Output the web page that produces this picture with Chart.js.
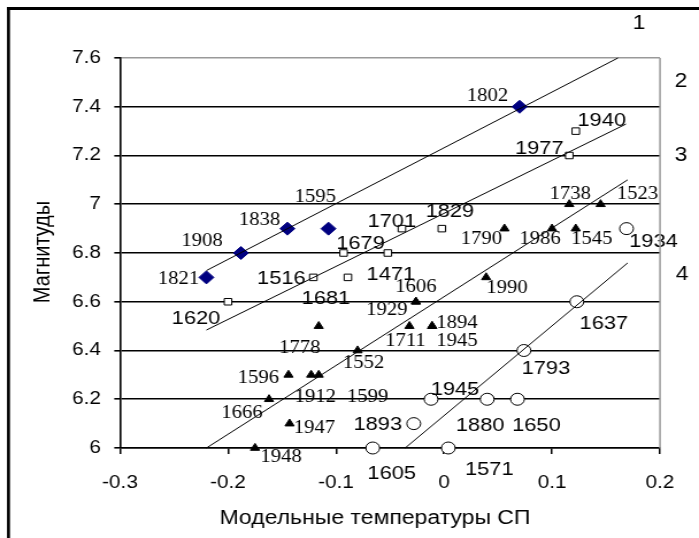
<!DOCTYPE html>
<html lang="ru">
<head>
<meta charset="UTF-8">
<title>Магнитуды</title>
<script src="https://cdn.jsdelivr.net/npm/chart.js@4.4.1/dist/chart.umd.min.js"></script>
<style>
  html, body { margin: 0; padding: 0; background: #fff; overflow: hidden; }
  #wrap { width: 699px; height: 538px; position: relative; overflow: hidden; }
  #chart { position: absolute; left: 0; top: 0; transform-origin: 0 0; }
</style>
</head>
<body>
<div id="wrap"><canvas id="chart" width="608" height="538"></canvas></div>
<script>
// the original picture is a little stretched sideways, so the canvas is too
const CW = 608;
const S = 699 / CW;
document.getElementById('chart').style.transform = 'scaleX(' + S + ')';

// tick labels
const xTickLabels = ['-0.3', '-0.2', '-0.1', '0', '0.1', '0.2'];
const yTickLabels = ['6', '6.2', '6.4', '6.6', '6.8', '7', '7.2', '7.4', '7.6'];

// group 1: blue diamonds
const s1Years = ['1821', '1908', '1838', '1595', '1802'];
const s1X = [-0.22, -0.188, -0.145, -0.107, 0.07];
const s1Y = [6.7, 6.8, 6.9, 6.9, 7.4];

// group 2: open squares
const s2Years = ['1620', '1516', '1681', '1679', '1471', '1701', '1829', '1977', '1940'];
const s2X = [-0.2, -0.121, -0.089, -0.093, -0.052, -0.039, -0.002, 0.116, 0.122];
const s2Y = [6.6, 6.7, 6.7, 6.8, 6.8, 6.9, 6.9, 7.2, 7.3];

// group 3: black triangles
const s3Years = ['1948', '1666', '1947', '1596', '1912', '1599', '1778', '1552', '1929', '1606',
                 '1711', '1894', '1945', '1990', '1790', '1986', '1545', '1738', '1523'];
const s3X = [-0.175, -0.162, -0.143, -0.144, -0.123, -0.116, -0.116, -0.08, -0.026, -0.026,
             -0.032, -0.011, -0.011, 0.039, 0.056, 0.1, 0.122, 0.116, 0.145];
const s3Y = [6.0, 6.2, 6.1, 6.3, 6.3, 6.3, 6.5, 6.4, 6.6, 6.6,
             6.5, 6.5, 6.5, 6.7, 6.9, 6.9, 6.9, 7.0, 7.0];

// group 4: open circles
const s4Years = ['1934', '1637', '1793', '1945', '1880', '1650', '1893', '1605', '1571'];
const s4X = [0.169, 0.123, 0.074, -0.012, 0.04, 0.068, -0.028, -0.066, 0.004];
const s4Y = [6.9, 6.6, 6.4, 6.2, 6.2, 6.2, 6.1, 6.0, 6.0];

// trend lines (end points)
const line1X = [-0.22, 0.161],  line1Y = [6.728, 7.6];
const line2X = [-0.22, 0.1685], line2Y = [6.484, 7.329];
const line3X = [-0.22, 0.17],   line3Y = [6.0, 7.1];
const line4X = [-0.036, 0.17],  line4Y = [6.0, 6.759];

// where each year label sits, screen px from the marker centre
const s1Off = [[-28, 0], [-39, -13], [-28, -10], [-13, -33], [-32, -12]];
const s2Off = [[-32, 16], [-32, 0], [-22, 20], [17, -11], [3, 20], [-10, -8], [8, -18], [-30, -8], [26, -12]];
const s3Off = [[26, 8], [-27, 12], [25, 3], [-30, 2], [4, 21], [49, 21], [-19, 21], [6, 11], [-29, 7], [0, -16],
               [-4, 14], [25, -4], [25, 14], [21, 9], [-23, 9], [-12, 9], [16, 9], [1, -12], [37, -12]];
const s4Off = [[27, 12], [27, 21], [22, 17], [24, -11], [-7, 25], [19, 25], [-36, 0], [19, 24], [41, 20]];

const SANS = '"Liberation Sans", Arial, sans-serif';
const SERIF = '"Liberation Serif", "Times New Roman", serif';
Chart.defaults.font.family = SANS;
Chart.defaults.color = '#000';

function pts(xs, ys) {
  return xs.map((x, i) => ({ x: x, y: ys[i] }));
}

function trend(xs, ys) {
  return { data: pts(xs, ys), showLine: true, pointRadius: 0, borderColor: '#000', borderWidth: 1, clip: false };
}

const datasets = [
  trend(line1X, line1Y),
  trend(line2X, line2Y),
  trend(line3X, line3Y),
  trend(line4X, line4Y),
  { data: pts(s1X, s1Y), pointStyle: 'rectRot', pointRadius: 6.5, backgroundColor: '#000080', borderColor: '#000080', borderWidth: 1, clip: false },
  { data: pts(s2X, s2Y), pointStyle: 'rect', pointRadius: 4.6, backgroundColor: '#fff', borderColor: '#000', borderWidth: 1, clip: false },
  { data: pts(s3X, s3Y), pointStyle: 'triangle', pointRadius: 4.6, backgroundColor: '#000', borderColor: '#000', borderWidth: 1, clip: false },
  { data: pts(s4X, s4Y), pointStyle: 'circle', pointRadius: 6, backgroundColor: '#fff', borderColor: '#000', borderWidth: 1, clip: false }
];

const labelSets = [
  { index: 4, years: s1Years, off: s1Off, font: SERIF, size: 18 },
  { index: 5, years: s2Years, off: s2Off, font: SANS, size: 19 },
  { index: 6, years: s3Years, off: s3Off, font: SERIF, size: 18 },
  { index: 7, years: s4Years, off: s4Off, font: SANS, size: 19 }
];

// text at screen px (x gets divided by S)
function text(ctx, str, x, y, size, font, rot) {
  ctx.save();
  ctx.font = size + 'px ' + font;
  ctx.fillStyle = '#000';
  ctx.textAlign = 'center';
  ctx.textBaseline = 'middle';
  ctx.translate(x / S, y);
  if (rot) ctx.rotate(rot);
  ctx.fillText(str, 0, 0);
  ctx.restore();
}

const decor = {
  id: 'decor',
  afterDatasetsDraw(chart) {
    const ctx = chart.ctx;
    ctx.save();
    ctx.fillStyle = '#000';
    ctx.textAlign = 'center';
    ctx.textBaseline = 'alphabetic';
    labelSets.forEach(set => {
      ctx.font = set.size + 'px ' + set.font;
      chart.getDatasetMeta(set.index).data.forEach((pt, i) => {
        const o = set.off[i];
        ctx.fillText(set.years[i], pt.x + o[0] / S, pt.y + o[1] + set.size * 0.35);
      });
    });
    ctx.restore();
  },
  afterDraw(chart) {
    const ctx = chart.ctx;
    const a = chart.chartArea;
    ctx.save();
    // right border of the plot
    ctx.strokeStyle = '#999';
    ctx.lineWidth = 1.5;
    const xr = chart.scales.x.getPixelForValue(0.2);
    ctx.beginPath();
    ctx.moveTo(xr, a.top);
    ctx.lineTo(xr, a.bottom);
    ctx.stroke();
    // outer frame, left and top
    ctx.fillStyle = '#000';
    ctx.fillRect(7 / S, 7, 3 / S, 538);
    ctx.fillRect(7 / S, 7, CW, 3);
    ctx.restore();

    text(ctx, '1', 639, 23, 20, SANS);
    text(ctx, '2', 681, 81, 20, SANS);
    text(ctx, '3', 681, 155, 20, SANS);
    text(ctx, '4', 682, 274, 20, SANS);
    text(ctx, 'Магнитуды', 43, 252, 20, SANS, -Math.PI / 2);
    text(ctx, 'Модельные температуры СП', 375, 518, 20, SANS);
  }
};

new Chart(document.getElementById('chart'), {
  type: 'scatter',
  data: { datasets: datasets },
  options: {
    responsive: false,
    animation: false,
    events: [],
    layout: { padding: { left: 0, top: 58, right: CW - 660 / S, bottom: 0 } },
    plugins: { legend: { display: false }, tooltip: { enabled: false } },
    scales: {
      x: {
        type: 'linear',
        min: -0.3,
        max: 0.2,
        afterFit: s => { s.height = 90; },
        ticks: {
          stepSize: 0.1,
          autoSkip: false,
          maxRotation: 0,
          padding: 18,
          font: { size: 18 },
          color: '#000',
          callback: (v, i) => xTickLabels[i]
        },
        grid: { drawOnChartArea: false, drawTicks: true, tickLength: 6, color: '#000', lineWidth: 1.5 },
        border: { display: true, color: '#000', width: 1.6 }
      },
      y: {
        type: 'linear',
        min: 6,
        max: 7.6,
        afterFit: s => { s.width = 120 / S; },
        ticks: {
          stepSize: 0.2,
          autoSkip: false,
          padding: 120 / S - 5 - 101 / S,
          font: { size: 18 },
          color: '#000',
          callback: (v, i) => yTickLabels[i]
        },
        grid: {
          color: c => (c.tick && Math.abs(c.tick.value - 7.6) < 1e-6 ? '#999' : '#000'),
          tickColor: '#000',
          tickLength: 5,
          lineWidth: 1.6
        },
        border: { display: true, color: '#000', width: 1.6 }
      }
    }
  },
  plugins: [decor]
});
</script>
</body>
</html>
